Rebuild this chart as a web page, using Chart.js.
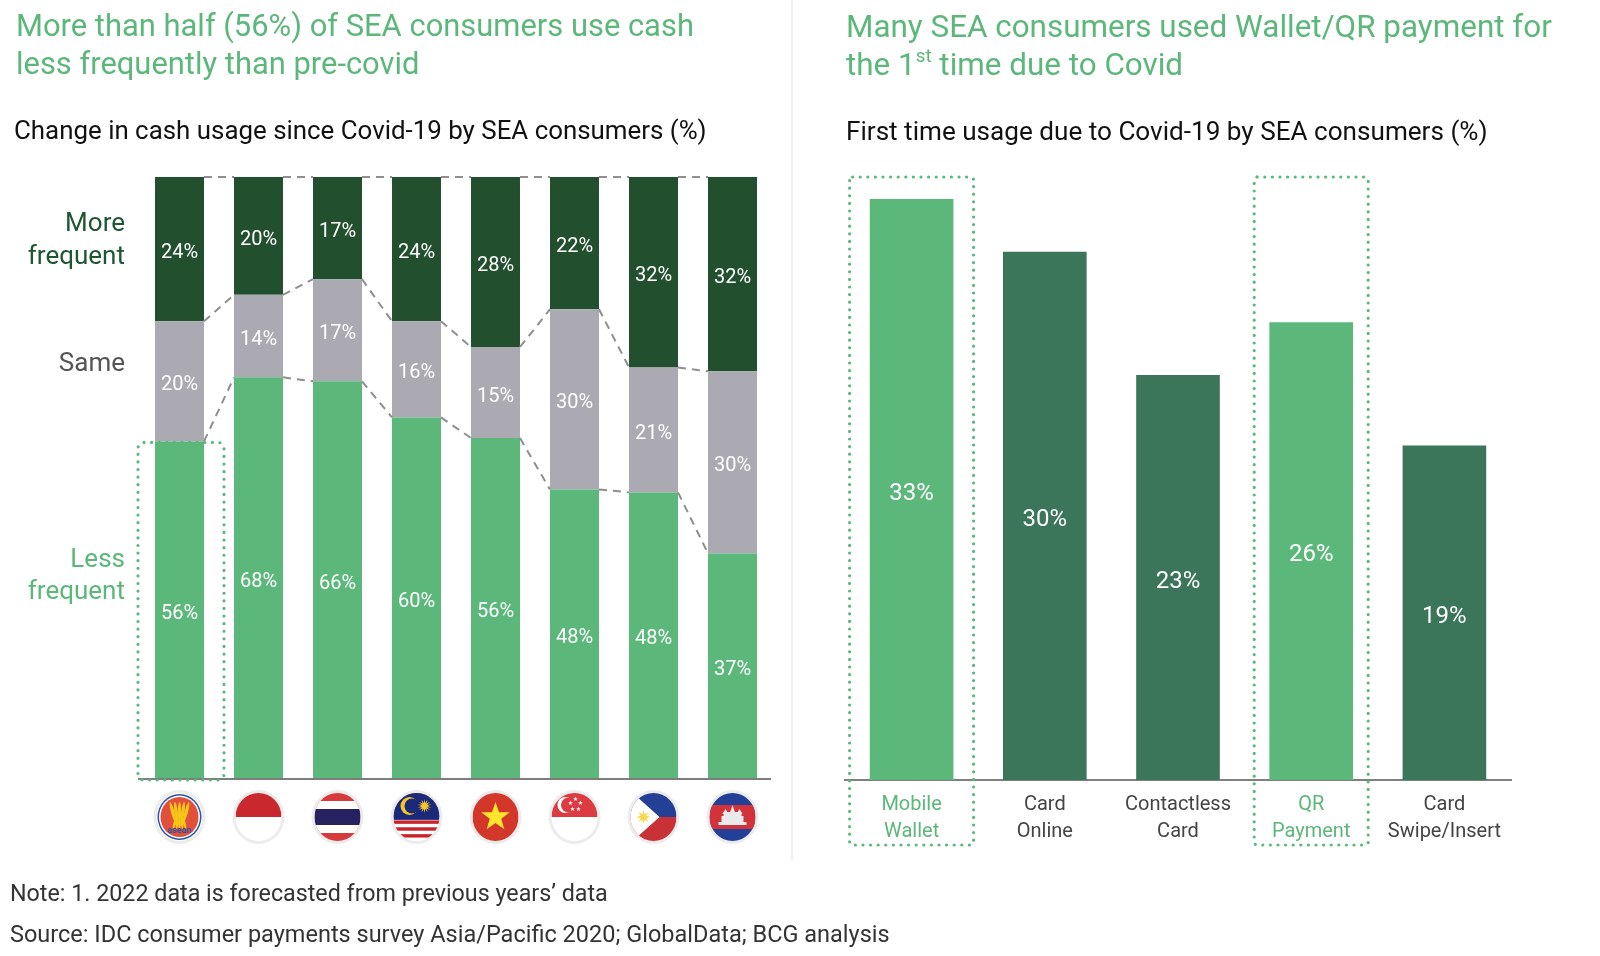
<!DOCTYPE html>
<html><head><meta charset="utf-8">
<script src="https://cdn.jsdelivr.net/npm/chart.js@4.4.1/dist/chart.umd.min.js"></script>
<style>
html,body{margin:0;padding:0;background:#fff;}
body{width:1600px;height:956px;position:relative;overflow:hidden;font-family:Roboto,'Open Sans',sans-serif;}
.t{position:absolute;white-space:nowrap;line-height:1;display:block;}
canvas{position:absolute;left:0;top:0;}
#sep{position:absolute;left:791px;top:0;width:2px;height:860px;background:#f0f0f0;}
sup{font-size:0.6em;vertical-align:baseline;position:relative;top:-0.7em;}
</style></head><body>
<div id="sep"></div>
<canvas id="left" width="1600" height="956"></canvas>
<canvas id="right" width="1600" height="956"></canvas>

<span class="t" id="lt1" data-x="16" data-cy="26" data-w="678" style="color:#5CB77A;font-size:30px">More than half (56%) of SEA consumers use cash</span>
<span class="t" data-same="lt1" data-x="16" data-cy="64" style="color:#5CB77A">less frequently than pre-covid</span>
<span class="t" data-x="14" data-cy="131" data-w="693" style="color:#111;font-size:24px">Change in cash usage since Covid-19 by SEA consumers (%)</span>

<span class="t" id="rt1" data-x="846" data-cy="27" data-w="706" style="color:#5CB77A;font-size:30px">Many SEA consumers used Wallet/QR payment for</span>
<span class="t" data-same="rt1" data-x="846" data-cy="65" style="color:#5CB77A">the 1<sup>st</sup> time due to Covid</span>
<span class="t" data-x="846" data-cy="131" data-w="642" style="color:#111;font-size:24px">First time usage due to Covid-19 by SEA consumers (%)</span>

<span class="t" data-r="125" data-cy="222" style="color:#1E5631;font-size:26px">More</span>
<span class="t" data-r="125" data-cy="255" style="color:#1E5631;font-size:26px">frequent</span>
<span class="t" data-r="125" data-cy="362" style="color:#555;font-size:26px">Same</span>
<span class="t" data-r="125" data-cy="558" style="color:#5CB77A;font-size:26px">Less</span>
<span class="t" data-r="125" data-cy="590" style="color:#5CB77A;font-size:26px">frequent</span>

<span class="t" data-x="10" data-cy="894" data-w="598" style="color:#333;font-size:22px">Note: 1. 2022 data is forecasted from previous years’ data</span>
<span class="t" data-x="10" data-cy="935" data-w="880" style="color:#333;font-size:22px">Source: IDC consumer payments survey Asia/Pacific 2020; GlobalData; BCG analysis</span>

<script>
// ---------------- DATA ----------------
const countries = ['ASEAN','Indonesia','Thailand','Malaysia','Vietnam','Singapore','Philippines','Cambodia'];
const lessFrequent = [56, 68, 66, 60, 56, 48, 48, 37];
const sameUsage    = [20, 14, 17, 16, 15, 30, 21, 30];
const moreFrequent = [24, 20, 17, 24, 28, 22, 32, 32];

const paymentMethods = [['Mobile','Wallet'],['Card','Online'],['Contactless','Card'],['QR','Payment'],['Card','Swipe/Insert']];
const firstTimeUsage = [33, 30, 23, 26, 19];
const highlightedMethods = ['Mobile Wallet','QR Payment'];

// ---------------- TEXT LAYOUT ----------------
(function layoutText(){
  const els = document.querySelectorAll('.t');
  els.forEach(el=>{
    if(el.dataset.w){
      const fs = parseFloat(el.style.fontSize);
      const w = el.getBoundingClientRect().width;
      el.style.fontSize = (fs*parseFloat(el.dataset.w)/w)+'px';
    }
  });
  els.forEach(el=>{
    if(el.dataset.same){ el.style.fontSize = document.getElementById(el.dataset.same).style.fontSize; }
  });
  els.forEach(el=>{
    const r = el.getBoundingClientRect();
    el.style.top = (parseFloat(el.dataset.cy) - r.height/2)+'px';
    if(el.dataset.r){ el.style.left = (parseFloat(el.dataset.r) - r.width)+'px'; }
    else el.style.left = el.dataset.x+'px';
  });
})();

const FONT = "Roboto, 'Open Sans', sans-serif";
Chart.defaults.font.family = FONT;

// ---------------- FLAGS ----------------
function star(ctx,cx,cy,r,ri,n,color){
  ctx.beginPath();
  for(let k=0;k<2*n;k++){const a=-Math.PI/2+k*Math.PI/n;const rr=k%2?ri:r;ctx.lineTo(cx+rr*Math.cos(a),cy+rr*Math.sin(a));}
  ctx.closePath();ctx.fillStyle=color;ctx.fill();
}
function disc(ctx,cx,cy,rx,ry,color){ctx.beginPath();ctx.ellipse(cx,cy,rx,ry,0,0,Math.PI*2);ctx.fillStyle=color;ctx.fill();}
function drawFlag(ctx,name,cx,cy,rx,ry){
  ctx.save();
  disc(ctx,cx,cy,rx+3,ry+3,'#ececec');
  ctx.beginPath();ctx.ellipse(cx,cy,rx,ry,0,0,Math.PI*2);ctx.fillStyle='#fff';ctx.fill();ctx.clip();
  const L=cx-rx,T=cy-ry,W=2*rx,H=2*ry;
  const rect=(x,y,w,h,c)=>{ctx.fillStyle=c;ctx.fillRect(x,y,w,h);};
  switch(name){
    case 'ASEAN':
      disc(ctx,cx,cy,rx-1,ry-1,'#2B56A6');
      disc(ctx,cx,cy,rx-2.5,ry-2.5,'#fff');
      disc(ctx,cx,cy,rx-4,ry-4,'#E0503A');
      ctx.fillStyle='#F5C518';
      for(let k=-2;k<=2;k++){
        ctx.beginPath();ctx.ellipse(cx+k*3.4,cy-5,1.7,10,k*0.13,0,Math.PI*2);ctx.fill();
        ctx.beginPath();ctx.ellipse(cx+k*2.4,cy+6,1.4,6,-k*0.12,0,Math.PI*2);ctx.fill();
      }
      ctx.fillStyle='#2B56A6';ctx.font='bold 9px '+FONT;ctx.textAlign='center';ctx.textBaseline='middle';
      ctx.fillText('asean',cx,cy+14);
      break;
    case 'Indonesia':
      rect(L,T,W,H/2,'#C8282E');
      break;
    case 'Thailand':
      rect(L,T,W,H,'#D63A3A');
      rect(L,T+H/6,W,H*4/6,'#fff');
      rect(L,T+H*2/6,W,H*2/6,'#262262');
      break;
    case 'Malaysia':
      for(let k=0;k<14;k++) rect(L,T+k*H/14,W,H/14+0.5,k%2?'#fff':'#CC2229');
      rect(L,T,W,H*0.56,'#1A2A78');
      disc(ctx,cx-7,cy-11,9,9,'#F7C628');
      disc(ctx,cx-4.5,cy-11,7.5,7.5,'#1A2A78');
      star(ctx,cx+8,cy-11,7,3,14,'#F7C628');
      break;
    case 'Vietnam':
      rect(L,T,W,H,'#D3372A');
      star(ctx,cx,cy,15,6,5,'#FFE52B');
      break;
    case 'Singapore':
      rect(L,T,W,H/2,'#DC3C41');
      disc(ctx,cx-9,cy-12,8,8,'#fff');
      disc(ctx,cx-6,cy-12,7.5,7.5,'#DC3C41');
      [[0,-18],[5,-14],[3,-8],[-3,-8],[-5,-14]].forEach(p=>star(ctx,cx+p[0]+1,cy+p[1],2.4,1,5,'#fff'));
      break;
    case 'Philippines':
      rect(L,T,W,H/2,'#233F96');
      rect(L,cy,W,H/2,'#C83236');
      ctx.beginPath();ctx.moveTo(L,T-2);ctx.lineTo(cx+6,cy);ctx.lineTo(L,T+H+2);ctx.closePath();ctx.fillStyle='#fff';ctx.fill();
      star(ctx,L+13,cy,7,3,8,'#F9D64B');
      break;
    case 'Cambodia':
      rect(L,T,W,H,'#233F96');
      rect(L,T+H*0.25,W,H*0.5,'#D2333A');
      ctx.fillStyle='#eaeaea';
      ctx.fillRect(cx-14,cy+5,28,3);
      ctx.fillRect(cx-11,cy-1,22,6);
      ctx.fillRect(cx-9,cy-5,18,4);
      [[-7,5],[0,9],[7,5]].forEach(p=>{ctx.beginPath();ctx.moveTo(cx+p[0]-3,cy-3);ctx.lineTo(cx+p[0],cy-3-p[1]);ctx.lineTo(cx+p[0]+3,cy-3);ctx.closePath();ctx.fill();});
      break;
  }
  ctx.restore();
}

function dottedRect(ctx,x,y,w,h,r){
  ctx.save();
  ctx.strokeStyle='#5CB77A';ctx.lineWidth=3.2;ctx.lineCap='round';ctx.setLineDash([0,7.6]);
  ctx.beginPath();ctx.roundRect(x,y,w,h,r);ctx.stroke();
  ctx.restore();
}

// ---------------- LEFT CHART ----------------
const totals = countries.map((_,i)=>lessFrequent[i]+sameUsage[i]+moreFrequent[i]);
const asShare = arr => arr.map((v,i)=>v/totals[i]*100);
const leftRaw = [lessFrequent, sameUsage, moreFrequent];

const leftDeco = {
  id:'leftDeco',
  afterDatasetsDraw(chart){
    const {ctx, chartArea, scales:{x}} = chart;
    const metas = [0,1,2].map(i=>chart.getDatasetMeta(i));
    ctx.save();
    ctx.strokeStyle='#8f8f8f';ctx.lineWidth=2;ctx.setLineDash([8,6]);
    metas.forEach(meta=>{
      for(let i=0;i<meta.data.length-1;i++){
        const a=meta.data[i], b=meta.data[i+1];
        ctx.beginPath();ctx.moveTo(a.x+a.width/2,a.y);ctx.lineTo(b.x-b.width/2,b.y);ctx.stroke();
      }
    });
    ctx.setLineDash([]);
    // values
    ctx.fillStyle='#fff';ctx.font='20px '+FONT;ctx.textAlign='center';ctx.textBaseline='middle';
    metas.forEach((meta,d)=>{
      meta.data.forEach((el,i)=>{ ctx.fillText(leftRaw[d][i]+'%', el.x, (el.y+el.base)/2+4); });
    });
    // baseline
    ctx.strokeStyle='#7d7d7d';ctx.lineWidth=2;
    ctx.beginPath();ctx.moveTo(chartArea.left-2,chartArea.bottom+1);ctx.lineTo(chartArea.right-1,chartArea.bottom+1);ctx.stroke();
    ctx.restore();
    // highlight ASEAN
    const a0 = metas[0].data[0];
    dottedRect(ctx, a0.x-41.5, a0.y+1, 86, chartArea.bottom+1-a0.y, 6);
    // flags
    countries.forEach((c,i)=>drawFlag(ctx,c,x.getPixelForValue(i),817,23,24));
  }
};

new Chart(document.getElementById('left'),{
  type:'bar',
  data:{labels:countries,datasets:[
    {label:'Less frequent',data:asShare(lessFrequent),backgroundColor:'#5CB77A'},
    {label:'Same',data:asShare(sameUsage),backgroundColor:'#ABA9B1'},
    {label:'More frequent',data:asShare(moreFrequent),backgroundColor:'#22502F'}
  ]},
  options:{
    responsive:false,animation:false,
    layout:{padding:{left:140,right:828,top:177,bottom:178}},
    plugins:{legend:{display:false},tooltip:{enabled:false}},
    datasets:{bar:{barPercentage:1,categoryPercentage:0.62,borderWidth:0}},
    scales:{
      x:{stacked:true,display:false},
      y:{stacked:true,display:false,min:0,max:100}
    }
  },
  plugins:[leftDeco]
});

// ---------------- RIGHT CHART ----------------
const isHi = i => highlightedMethods.includes(paymentMethods[i].join(' '));
const rightDeco = {
  id:'rightDeco',
  afterDatasetsDraw(chart){
    const {ctx, chartArea} = chart;
    const meta = chart.getDatasetMeta(0);
    ctx.save();
    ctx.fillStyle='#fff';ctx.font='24px '+FONT;ctx.textAlign='center';ctx.textBaseline='middle';
    meta.data.forEach((el,i)=>ctx.fillText(firstTimeUsage[i]+'%', el.x, (el.y+el.base)/2+4));
    ctx.restore();
    let k=0;
    meta.data.forEach((el,i)=>{
      if(!isHi(i)) return;
      const half = k===0 ? 62 : 57; k++;
      dottedRect(ctx, el.x-half, chartArea.top, 2*half, 845-chartArea.top, 3);
    });
  }
};
new Chart(document.getElementById('right'),{
  type:'bar',
  data:{labels:paymentMethods,datasets:[{
    label:'First time usage',data:firstTimeUsage,
    backgroundColor:paymentMethods.map((_,i)=>isHi(i)?'#5CB77A':'#3B765A')
  }]},
  options:{
    responsive:false,animation:false,
    layout:{padding:{left:845,right:89,top:177,bottom:96}},
    plugins:{legend:{display:false},tooltip:{enabled:false}},
    datasets:{bar:{barPercentage:1,categoryPercentage:0.628,borderWidth:0}},
    scales:{
      x:{
        grid:{display:false},
        border:{display:true,color:'#808080',width:2},
        afterFit(s){s.height=80;},
        ticks:{padding:3,autoSkip:false,maxRotation:0,minRotation:0,
          color:c=>isHi(c.index)?'#5CB77A':'#444',
          font:{size:20,lineHeight:1.35}}
      },
      y:{display:false,min:0,max:34.25}
    }
  },
  plugins:[rightDeco]
});
</script>
</body></html>
